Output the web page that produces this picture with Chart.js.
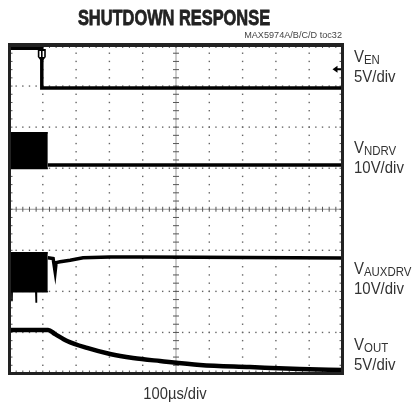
<!DOCTYPE html>
<html>
<head>
<meta charset="utf-8">
<script src="https://cdn.jsdelivr.net/npm/chart.js@4.4.0/dist/chart.umd.min.js"></script>
<style>
  html, body { margin: 0; padding: 0; background: #fff; }
  canvas { display: block; }
</style>
</head>
<body>
<canvas id="scope" width="417" height="408"></canvas>
<script>
// time axis in µs, 100µs/div, 10 divisions
const timeMin = 0;
const timeMax = 1000;

// V_EN, 5V/div
const enT = [0, 97, 97, 1000];
const enV = [4.85, 4.85, 0, 0];

// V_NDRV, 10V/div - switching burst (envelope) then low
const burstT = [0, 115];
const ndrvBurstHigh = [7.8, 7.8];
const ndrvBurstLow = [-0.9, -0.9];
const ndrvT = [115, 1000];
const ndrvV = [0, 0];

// V_AUXDRV, 10V/div
const auxBurstHigh = [9.4, 9.4];
const auxLowT = [0, 7, 7.5, 8, 79, 80, 81, 115];
const auxLowV = [-0.1, -0.1, -2.4, -0.1, -0.1, -2.6, -0.1, -0.1];
const auxT = [115, 131, 137, 140, 152, 182, 221, 302, 392, 572, 1000];
const auxV = [8.2, 8.0, 4.8, 7.0, 7.2, 7.6, 8.2, 8.4, 8.4, 8.3, 8.1];

// V_OUT, 5V/div
const outT = [0, 116, 137, 173, 233, 302, 371, 452, 572, 722, 872, 1000];
const outV = [5.3, 5.3, 4.8, 3.96, 3.11, 2.37, 1.89, 1.52, 1.04, 0.79, 0.55, 0.43];

const triggerTime = 97;    // µs
const triggerLevel = 2.3;  // V on EN

// channel ground position (divisions from screen bottom) and volts/div
const chEN   = { offset: 6.95, perDiv: 5 };
const chNDRV = { offset: 5.08, perDiv: 10 };
const chAUX  = { offset: 2.0,  perDiv: 10 };
const chOUT  = { offset: 0,    perDiv: 5 };

const rightLabels = [
  { sub: 'EN',     scale: '5V/div',  y: 62 },
  { sub: 'NDRV',   scale: '10V/div', y: 153 },
  { sub: 'AUXDRV', scale: '10V/div', y: 274 },
  { sub: 'OUT',    scale: '5V/div',  y: 350 },
];

const FONT = '"Liberation Sans", Arial, sans-serif';

function pts(ts, vs, ch) {
  return ts.map((t, i) => ({ x: t, y: ch.offset + vs[i] / ch.perDiv }));
}

function trace(data, width, extra) {
  return Object.assign({
    data,
    borderColor: '#000',
    backgroundColor: '#000',
    borderWidth: width,
    pointRadius: 0,
    fill: false,
  }, extra || {});
}

function drawText(ctx, text, x, y, font, sx, align, color, bolden) {
  ctx.save();
  ctx.font = font;
  ctx.fillStyle = color || '#222';
  ctx.textAlign = align;
  ctx.textBaseline = 'alphabetic';
  ctx.translate(x, y);
  ctx.scale(sx, 1);
  ctx.fillText(text, 0, 0);
  if (bolden) {
    ctx.strokeStyle = color || '#222';
    ctx.lineWidth = bolden;
    ctx.strokeText(text, 0, 0);
  }
  ctx.restore();
}

const scopeFace = {
  id: 'scopeFace',
  beforeDraw(chart) {
    const ctx = chart.ctx;
    ctx.save();
    ctx.fillStyle = '#fff';
    ctx.fillRect(0, 0, chart.width, chart.height);
    ctx.restore();
  },
  beforeDatasetsDraw(chart) {
    const { ctx, chartArea: { left, right, top, bottom } } = chart;
    const dx = (right - left) / 10, dy = (bottom - top) / 8;
    const cx = left + 5 * dx, cy = top + 4 * dy;
    ctx.save();
    // dotted graticule
    ctx.fillStyle = '#666';
    for (let i = 1; i < 10; i++) {
      if (i === 5) continue;
      const x = left + i * dx;
      for (let j = 1; j < 40; j++) ctx.fillRect(x - 0.7, top + j * dy / 5 - 0.7, 1.4, 1.4);
    }
    for (let i = 1; i < 8; i++) {
      if (i === 4) continue;
      const y = top + i * dy;
      for (let j = 1; j < 50; j++) ctx.fillRect(left + j * dx / 5 - 0.7, y - 0.7, 1.4, 1.4);
    }
    // centre axes with minor ticks
    ctx.strokeStyle = '#999';
    ctx.lineWidth = 1;
    ctx.beginPath();
    ctx.moveTo(cx, top); ctx.lineTo(cx, bottom);
    ctx.moveTo(left, cy); ctx.lineTo(right, cy);
    ctx.stroke();
    ctx.strokeStyle = '#555';
    ctx.beginPath();
    for (let j = 1; j < 50; j++) {
      const x = left + j * dx / 5;
      ctx.moveTo(x, cy - 2.5); ctx.lineTo(x, cy + 2.5);
      ctx.moveTo(x, top); ctx.lineTo(x, top + 3);
      ctx.moveTo(x, bottom - 3); ctx.lineTo(x, bottom);
    }
    for (let j = 1; j < 40; j++) {
      const y = top + j * dy / 5;
      ctx.moveTo(cx - 3, y); ctx.lineTo(cx + 3, y);
      ctx.moveTo(left, y); ctx.lineTo(left + 3, y);
      ctx.moveTo(right - 3, y); ctx.lineTo(right, y);
    }
    ctx.stroke();
    ctx.restore();
  },
  afterDatasetsDraw(chart) {
    const { ctx, chartArea: { left, right, top, bottom }, scales: { x, y } } = chart;
    ctx.save();
    // frame
    ctx.strokeStyle = '#222';
    ctx.lineWidth = 3;
    ctx.strokeRect(left, top, right - left, bottom - top);
    ctx.lineWidth = 4;
    ctx.beginPath(); ctx.moveTo(left - 1.5, top); ctx.lineTo(right + 1.5, top); ctx.stroke();

    // trigger position marker
    const tx = x.getPixelForValue(triggerTime);
    ctx.fillStyle = '#000';
    ctx.beginPath();
    ctx.moveTo(tx - 4, top + 4); ctx.lineTo(tx + 4, top + 4);
    ctx.lineTo(tx + 4, top + 12); ctx.lineTo(tx, top + 17); ctx.lineTo(tx - 4, top + 12);
    ctx.closePath(); ctx.fill();
    ctx.fillStyle = '#fff';
    ctx.fillRect(tx - 2.4, top + 6, 1.6, 6);
    ctx.fillRect(tx + 0.8, top + 6, 1.6, 6);

    // trigger level marker
    const ty = y.getPixelForValue(chEN.offset + triggerLevel / chEN.perDiv);
    ctx.fillStyle = '#000';
    ctx.beginPath();
    ctx.moveTo(right - 10, ty); ctx.lineTo(right - 5, ty - 3.5); ctx.lineTo(right - 5, ty + 3.5);
    ctx.closePath(); ctx.fill();
    ctx.fillRect(right - 5.5, ty - 1, 4, 2);
    ctx.restore();
  },
  afterDraw(chart) {
    const ctx = chart.ctx;
    drawText(ctx, 'SHUTDOWN RESPONSE', 174, 25, 'bold 22px ' + FONT, 0.745, 'center', '#222', 0.8);
    drawText(ctx, 'MAX5974A/B/C/D toc32', 342, 38, '9.5px ' + FONT, 0.96, 'right', '#444');
    drawText(ctx, '100µs/div', 175, 399, '16px ' + FONT, 0.92, 'center', '#333');
    rightLabels.forEach(l => {
      ctx.save();
      ctx.font = '17px ' + FONT;
      const vw = ctx.measureText('V').width * 0.88;
      ctx.restore();
      drawText(ctx, 'V', 354, l.y, '17px ' + FONT, 0.88, 'left', '#333');
      drawText(ctx, l.sub, 354 + vw, l.y + 2, '13px ' + FONT, 0.88, 'left', '#333');
      drawText(ctx, l.scale, 354, l.y + 20, '17px ' + FONT, 0.88, 'left', '#333');
    });
  },
};

new Chart(document.getElementById('scope').getContext('2d'), {
  type: 'line',
  data: {
    datasets: [
      trace(pts(burstT, ndrvBurstHigh, chNDRV), 1.5, { fill: '+1' }),
      trace(pts(burstT, ndrvBurstLow, chNDRV), 1.5),
      trace(pts(burstT, auxBurstHigh, chAUX), 1.5, { fill: '+1' }),
      trace(pts(auxLowT, auxLowV, chAUX), 1.5),
      trace(pts(enT, enV, chEN), 3.5),
      trace(pts(ndrvT, ndrvV, chNDRV), 3.5),
      trace(pts(auxT, auxV, chAUX), 3.5),
      trace(pts(outT, outV, chOUT), 4.5, { cubicInterpolationMode: 'monotone' }),
    ],
  },
  options: {
    responsive: false,
    animation: false,
    layout: { padding: { left: 9.5, right: 74.5, top: 45, bottom: 34.5 } },
    plugins: {
      legend: { display: false },
      title: { display: false },
      tooltip: { enabled: false },
    },
    scales: {
      x: { type: 'linear', min: timeMin, max: timeMax, display: false },
      y: { type: 'linear', min: 0, max: 8, display: false },
    },
  },
  plugins: [scopeFace],
});
</script>
</body>
</html>
